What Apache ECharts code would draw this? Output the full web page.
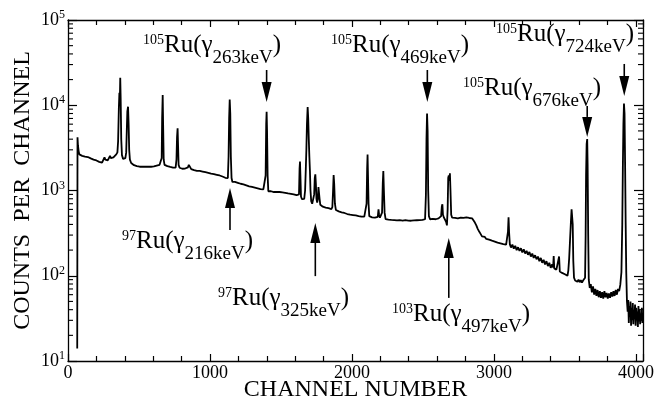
<!DOCTYPE html>
<html><head><meta charset="utf-8">
<script src="https://cdn.jsdelivr.net/npm/echarts@6/dist/echarts.min.js"></script>
<style>html,body{margin:0;padding:0;background:#fff}#c{width:664px;height:404px}</style>
</head><body><div id="c"></div>
<script>
// ---- data ----
const channels = [65,67,70,75,80,90,100,110,120,130,140,150,160,170,180,190,200,210,220,230,240,250,257,263,270,280,290,296,302,310,320,330,340,348,353,358,362,365,368,371,375,380,388,396,404,410,414,418,423,427,431,436,445,455,465,475,485,495,505,515,525,535,545,555,565,575,585,595,605,615,625,635,645,655,660,663,667,670,674,680,690,700,710,720,730,740,750,758,764,768,772,775,779,786,795,805,815,825,835,845,851,856,861,868,878,888,898,908,918,928,938,948,958,968,978,988,998,1008,1018,1028,1038,1048,1058,1068,1078,1088,1098,1108,1118,1126,1131,1135,1139,1143,1147,1152,1158,1166,1176,1186,1196,1206,1216,1226,1236,1246,1256,1266,1276,1286,1296,1306,1316,1326,1336,1346,1356,1366,1376,1386,1392,1396,1399,1402,1406,1411,1420,1430,1440,1450,1460,1470,1480,1490,1500,1510,1520,1530,1540,1550,1560,1570,1580,1590,1600,1610,1620,1627,1631,1634,1637,1641,1648,1656,1664,1670,1675,1679,1683,1688,1692,1696,1700,1704,1708,1713,1720,1728,1734,1738,1742,1746,1750,1755,1760,1764,1768,1772,1777,1785,1795,1805,1815,1825,1835,1845,1855,1862,1867,1871,1875,1880,1887,1897,1907,1917,1927,1937,1947,1957,1967,1977,1987,1997,2007,2017,2027,2037,2047,2057,2067,2077,2087,2097,2103,2107,2110,2113,2117,2122,2132,2142,2152,2162,2172,2182,2187,2191,2197,2205,2212,2217,2221,2225,2230,2237,2247,2257,2267,2277,2287,2297,2307,2317,2327,2337,2347,2357,2367,2377,2387,2397,2407,2417,2427,2437,2447,2457,2467,2477,2487,2497,2507,2515,2521,2525,2529,2533,2537,2542,2550,2560,2570,2580,2590,2600,2610,2620,2628,2633,2637,2641,2648,2656,2663,2669,2674,2678,2682,2686,2690,2694,2699,2706,2716,2726,2736,2746,2756,2766,2776,2786,2796,2806,2816,2826,2836,2846,2856,2866,2876,2886,2896,2906,2916,2926,2936,2946,2956,2966,2976,2986,2996,3006,3016,3026,3036,3046,3056,3066,3076,3086,3094,3099,3103,3107,3112,3120,3130,3140,3150,3160,3170,3180,3190,3200,3210,3220,3230,3240,3250,3260,3270,3280,3290,3300,3310,3320,3330,3340,3350,3360,3370,3380,3390,3400,3410,3417,3421,3425,3432,3440,3448,3454,3459,3464,3472,3480,3490,3500,3510,3518,3524,3530,3536,3542,3547,3551,3555,3559,3564,3572,3580,3588,3596,3604,3612,3620,3628,3636,3642,3646,3649,3653,3657,3660,3664,3668,3675,3682,3690,3698,3706,3714,3722,3730,3738,3746,3754,3762,3770,3778,3786,3794,3802,3810,3818,3826,3834,3842,3850,3858,3866,3874,3882,3890,3898,3904,3908,3912,3916,3920,3924,3928,3932,3937,3942,3946,3950,3954,3958,3962,3966,3970,3974,3978,3982,3986,3990,3994,3998,4002,4006,4010,4014,4018,4022,4026,4030,4034,4038,4042,4046,4050];
const counts = [14,4200,3400,2900,2650,2600,2550,2580,2500,2450,2470,2400,2380,2350,2300,2280,2250,2200,2170,2150,2120,2150,2450,2300,2200,2250,2350,2550,2400,2380,2450,2550,2650,2800,3800,9000,14000,11000,21000,12000,4000,2600,2350,2300,2400,2800,5000,8500,9600,6000,3000,2300,2100,2000,1980,1950,1930,1950,1900,1930,1900,1880,1910,1880,1900,1920,1900,1940,1920,1950,1960,1980,2000,2050,2400,7000,13200,6000,2300,2000,1950,1930,1900,1890,1880,1860,1870,1850,2300,4200,5360,3500,2000,1850,1820,1800,1790,1810,1830,1870,2000,2060,1900,1780,1750,1730,1720,1700,1690,1700,1680,1670,1650,1640,1620,1610,1600,1580,1570,1560,1540,1530,1520,1500,1480,1460,1430,1410,1390,1400,2500,7000,11700,8000,2500,1400,1260,1300,1260,1250,1230,1220,1200,1190,1180,1160,1150,1130,1120,1110,1100,1090,1080,1070,1060,1050,1040,1030,1030,1040,1500,6000,8400,5000,1500,980,960,980,970,960,975,960,950,960,945,950,935,940,930,925,920,915,905,900,890,880,870,900,1800,2180,1500,850,790,770,800,1000,1800,3000,6000,9500,7000,4000,2500,1700,1000,750,700,680,900,1400,1550,1200,800,720,800,1100,1160,800,680,650,645,640,630,625,620,610,605,640,1000,1520,1200,700,590,580,570,560,555,550,545,535,530,525,520,520,515,510,510,505,500,500,495,500,495,500,700,1800,2650,1500,700,500,490,485,480,480,485,490,600,520,480,470,550,1200,1690,1000,550,462,446,456,436,452,434,450,428,446,430,448,426,444,430,448,426,444,430,442,424,446,430,448,434,450,436,452,446,460,900,4000,8000,5000,1000,500,460,470,465,470,460,475,470,480,500,650,690,520,480,470,430,390,600,1400,1500,1300,1590,1000,520,480,460,478,455,472,462,482,458,478,465,484,462,476,470,472,450,420,390,355,330,310,290,280,285,270,278,265,272,258,265,252,258,245,252,240,246,235,242,232,240,330,485,320,235,214,232,208,224,200,216,196,210,188,204,182,196,176,190,168,182,162,174,156,168,148,162,142,154,136,148,130,142,124,136,125,170,122,126,118,122,115,168,112,115,108,112,104,108,100,115,160,260,420,600,630,400,150,95,88,92,85,90,84,89,83,88,84,95,300,1500,3500,4020,2000,300,90,72,80,64,75,60,70,58,68,56,66,55,64,54,66,56,63,54,62,55,64,57,66,58,68,60,70,66,78,110,400,1800,6000,10500,8000,2000,400,110,50,38,52,28,44,33,50,26,42,30,48,27,40,31,46,26,42,30,38,25,44,29,40,27,36,30,42,28,35];
const xTickLabels = [0, 1000, 2000, 3000, 4000];
const yDecades = [10, 100, 1000, 10000, 100000];
const minorLogTicks = [20,30,40,50,60,70,80,90,200,300,400,500,600,700,800,900,2000,3000,4000,5000,6000,7000,8000,9000,20000,30000,40000,50000,60000,70000,80000,90000];
const isotopes = ['105', '105', '105', '105', '97', '97', '103'];
const energies = ['263', '469', '724', '676', '216', '325', '497'];
const arrowChannels = [1399, 2531, 3918, 3657, 1141, 1742, 2682];

const FONT = 'Liberation Serif';
const chart = echarts.init(document.getElementById('c'), null, {renderer: 'canvas'});
const series = channels.map((c, i) => [c, counts[i]]);

const tickStyle = {color: '#000', width: 1.2};
const xBase = {
  type: 'value', min: 0, max: 4050, interval: 1000,
  axisLine: {show: true, onZero: false, lineStyle: {color: '#000', width: 1.3}},
  axisTick: {show: true, inside: true, length: 7, lineStyle: tickStyle},
  minorTick: {show: true, splitNumber: 5, length: 5, lineStyle: tickStyle},
  splitLine: {show: false}, minorSplitLine: {show: false}
};
const yBase = {
  type: 'log', logBase: 10, min: 10, max: 100000,
  axisLine: {show: true, onZero: false, lineStyle: {color: '#000', width: 1.3}},
  axisTick: {show: true, inside: true, length: 9, lineStyle: tickStyle},
  splitLine: {show: false}
};

chart.setOption({
  animation: false,
  backgroundColor: '#fff',
  grid: {left: 68, top: 20, right: 21, bottom: 43, containLabel: false, outerBoundsMode: 'none'},
  xAxis: [
    Object.assign({}, xBase, {
      position: 'bottom',
      name: 'CHANNEL NUMBER', nameLocation: 'middle', nameGap: 17, nameMoveOverlap: false,
      nameTextStyle: {fontFamily: FONT, fontSize: 24, color: '#000'},
      axisLabel: {
        show: true, margin: 3, color: '#000', fontFamily: FONT, fontSize: 18,
        formatter: v => xTickLabels.indexOf(v) >= 0 ? String(v) : ''
      }
    }),
    Object.assign({}, xBase, {position: 'top', axisLabel: {show: false}})
  ],
  yAxis: [
    Object.assign({}, yBase, {
      position: 'left',
      name: 'COUNTS  PER  CHANNEL', nameLocation: 'middle', nameGap: 33, nameMoveOverlap: false,
      nameTextStyle: {fontFamily: FONT, fontSize: 24, color: '#000'},
      axisLabel: {
        show: true, margin: 3, color: '#000',
        formatter: v => yDecades.indexOf(v) >= 0 ? '{b|10}{s|' + Math.round(Math.log10(v)) + '}' : '',
        rich: {
          b: {fontFamily: FONT, fontSize: 18, lineHeight: 22, color: '#000'},
          s: {fontFamily: FONT, fontSize: 12, lineHeight: 12, verticalAlign: 'top', color: '#000'}
        }
      }
    }),
    Object.assign({}, yBase, {position: 'right', axisLabel: {show: false}})
  ],
  series: [
    {
      type: 'line', data: series, xAxisIndex: 0, yAxisIndex: 0,
      showSymbol: false, symbol: 'none', silent: true,
      lineStyle: {color: '#000', width: 1.8}, z: 3
    },
    {
      type: 'custom', xAxisIndex: 0, yAxisIndex: 0, silent: true, clip: false,
      data: minorLogTicks.map(v => [0, v]),
      encode: {x: 0, y: 1},
      renderItem: function (params, api) {
        const v = api.value(1);
        const pl = api.coord([0, v]);
        const pr = api.coord([4050, v]);
        return {
          type: 'group', children: [
            {type: 'line', shape: {x1: pl[0], y1: pl[1], x2: pl[0] + 5, y2: pl[1]}, style: {stroke: '#000', lineWidth: 1.1}},
            {type: 'line', shape: {x1: pr[0] - 5, y1: pr[1], x2: pr[0], y2: pr[1]}, style: {stroke: '#000', lineWidth: 1.1}}
          ]
        };
      }
    }
  ]
});

// ---- annotations: arrows placed through the chart's scales ----
const arrowFrom = [25900, 25900, 30500, 9800, 344, 99, 55];   // shaft tail values
const arrowTo = [10900, 10900, 12800, 4250, 1070, 416, 277];   // arrow tip values
const labelPos = [[143, 54], [331, 54], [496, 43], [463, 97], [122, 250], [218, 307], [392, 323]]; // [left x, baseline y]

const graphics = [];
arrowChannels.forEach((ch, i) => {
  const t = chart.convertToPixel({gridIndex: 0}, [ch, arrowFrom[i]]);
  const h = chart.convertToPixel({gridIndex: 0}, [ch, arrowTo[i]]);
  const dir = h[1] > t[1] ? 1 : -1; // 1 = down
  const headLen = 20, halfW = 5;
  const baseY = h[1] - dir * headLen;
  graphics.push({type: 'line', silent: true, z: 10,
    shape: {x1: t[0], y1: t[1], x2: h[0], y2: baseY},
    style: {stroke: '#000', lineWidth: 1.6}});
  graphics.push({type: 'polygon', silent: true, z: 10,
    shape: {points: [[h[0], h[1]], [h[0] - halfW, baseY], [h[0] + halfW, baseY]]},
    style: {fill: '#000'}});
  graphics.push({type: 'text', silent: true, z: 10,
    x: labelPos[i][0], y: labelPos[i][1] - 21,
    style: {
      text: '{sup|' + isotopes[i] + '}{base|Ru(γ}{sub|' + energies[i] + 'keV}{base|)}',
      align: 'left', verticalAlign: 'top',
      rich: {
        sup: {fontFamily: FONT, fontSize: 14, lineHeight: 16, verticalAlign: 'top', fill: '#000'},
        base: {fontFamily: FONT, fontSize: 25, lineHeight: 35, verticalAlign: 'top', fill: '#000'},
        sub: {fontFamily: FONT, fontSize: 19, lineHeight: 20, verticalAlign: 'bottom', fill: '#000'}
      }
    }});
});
chart.setOption({graphic: graphics});
</script>
</body></html>
